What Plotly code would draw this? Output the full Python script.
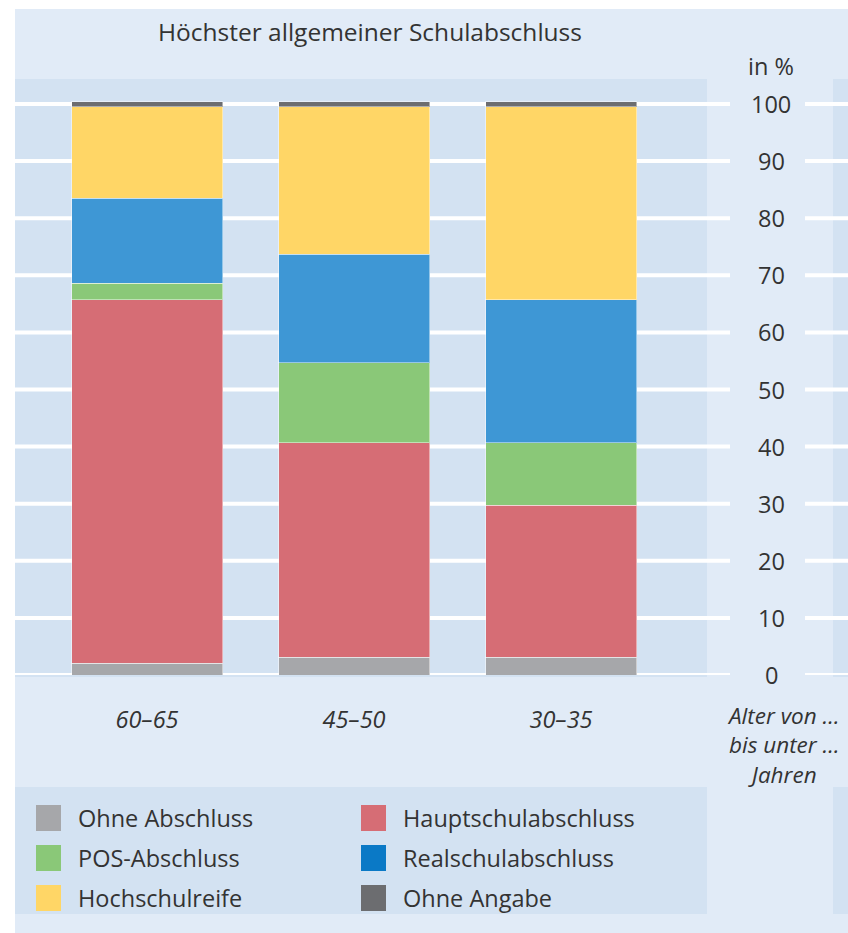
import plotly.graph_objects as go

# ---------------- data ----------------
categories = ["60–65", "45–50", "30–35"]
series_names = ["Ohne Abschluss", "Hauptschulabschluss", "POS-Abschluss",
                "Realschulabschluss", "Hochschulreife", "Ohne Angabe"]
ohne_abschluss = [2.1, 3.1, 3.1]
hauptschul = [63.6, 37.6, 26.6]
pos = [2.9, 14.0, 11.0]
realschul = [14.9, 19.0, 25.0]
hochschulreife = [16.0, 25.8, 33.8]
ohne_angabe = [0.9, 0.9, 0.9]
y_ticks = [0, 10, 20, 30, 40, 50, 60, 70, 80, 90, 100]
title_text = "Höchster allgemeiner Schulabschluss"
unit_text = "in %"
xaxis_note = "Alter von …<br>bis unter …<br>Jahren"

# ---------------- style ----------------
bar_colors = ["#a6a7aa", "#d66d75", "#8ac878", "#3e97d5", "#ffd666", "#6c6d70"]
swatch_colors = ["#a6a7aa", "#d66d75", "#8ac878", "#0a79c6", "#ffd666", "#6c6d70"]
LIGHT = "#e1ebf7"
DARK = "#d3e2f2"
TEXT = "#333333"
FONT = "Open Sans, Noto Sans, Liberation Sans, sans-serif"

W, H = 848, 933
TOP, BOTTOM = 79, 675           # pixel rows of plot area top / y=0
PLOT_H = BOTTOM - TOP
PX_PER_UNIT = (BOTTOM - 104) / 100.0
CENTER0, STEP = 147, 207        # pixel of first category, pixels per category


def px(x):
    return x / W


def py(y):
    return (BOTTOM - y) / PLOT_H


values = [ohne_abschluss, hauptschul, pos, realschul, hochschulreife, ohne_angabe]

fig = go.Figure()
for name, vals, col in zip(series_names, values, bar_colors):
    fig.add_trace(go.Bar(
        x=categories, y=vals, name=name,
        marker=dict(color=col, line=dict(color="rgba(255,255,255,0.45)", width=1)),
        showlegend=False, hoverinfo="name+y",
    ))

shapes = []


def rect(x0, y0, x1, y1, color):
    shapes.append(dict(type="rect", xref="paper", yref="paper",
                       x0=px(x0), x1=px(x1), y0=py(y0), y1=py(y1),
                       fillcolor=color, line=dict(width=0), layer="below"))


# background panels
rect(15, 9, W, H, LIGHT)
rect(15, TOP, 707, BOTTOM + 2, DARK)
rect(833, TOP, W, BOTTOM + 2, DARK)
rect(15, 787, 707, 914, DARK)
rect(833, 787, W, 914, DARK)

# grid lines
for t in y_ticks:
    for a, b in ((15, 730), (805, W)):
        shapes.append(dict(type="line", xref="paper", yref="y",
                           x0=px(a), x1=px(b), y0=t, y1=t,
                           line=dict(color="white", width=4), layer="below"))

annotations = []
annotations.append(dict(text=title_text, x=px(370), y=py(32), xref="paper", yref="paper",
                        showarrow=False, xanchor="center", yanchor="middle",
                        font=dict(size=24.5, color=TEXT, family=FONT)))
annotations.append(dict(text=unit_text, x=px(771), y=py(66), xref="paper", yref="paper",
                        showarrow=False, xanchor="center", yanchor="middle",
                        font=dict(size=23.5, color=TEXT, family=FONT)))
for t in y_ticks:
    annotations.append(dict(text=str(t), x=px(771), y=t, xref="paper", yref="y",
                            showarrow=False, xanchor="center", yanchor="middle",
                            font=dict(size=23.5, color=TEXT, family=FONT)))
annotations.append(dict(text=xaxis_note, x=px(783), y=py(745), xref="paper", yref="paper",
                        showarrow=False, xanchor="center", yanchor="middle", align="center",
                        font=dict(size=22.5, color=TEXT, family=FONT, style="italic")))

# legend (two columns, three rows)
for i, (name, col) in enumerate(zip(series_names, swatch_colors)):
    row, colx = divmod(i, 2)
    sx = 36 if colx == 0 else 361
    cy = 818 + 40 * row
    shapes.append(dict(type="rect", xref="paper", yref="paper",
                       x0=px(sx), x1=px(sx + 25), y0=py(cy - 13), y1=py(cy + 13),
                       fillcolor=col, line=dict(width=0), layer="above"))
    annotations.append(dict(text=name, x=px(sx + 40), y=py(cy), xref="paper", yref="paper",
                            showarrow=False, xanchor="left", yanchor="middle",
                            font=dict(size=23.5, color=TEXT, family=FONT)))

fig.update_layout(
    width=W, height=H,
    margin=dict(l=0, r=0, t=TOP, b=H - BOTTOM, pad=0),
    paper_bgcolor="white", plot_bgcolor="rgba(0,0,0,0)",
    barmode="stack", bargap=1 - 151 / STEP,
    shapes=shapes, annotations=annotations,
    showlegend=False,
    xaxis=dict(range=[-CENTER0 / STEP, (W - CENTER0) / STEP],
               showgrid=False, zeroline=False, showline=False,
               ticks="outside", ticklen=24, tickcolor="rgba(0,0,0,0)",
               tickfont=dict(size=23.5, color=TEXT, family=FONT, style="italic")),
    yaxis=dict(range=[0, PLOT_H / PX_PER_UNIT], showgrid=False, zeroline=False,
               showticklabels=False, showline=False),
)

fig.write_html("out.html", config={"displayModeBar": False},
               post_script="document.body.style.margin='0';document.body.style.overflow='hidden';")
